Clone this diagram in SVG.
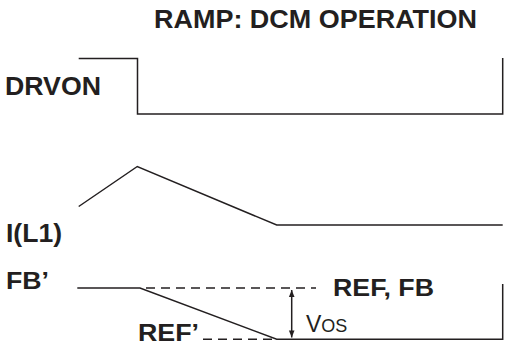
<svg xmlns="http://www.w3.org/2000/svg" width="518" height="345" viewBox="0 0 518 345">
<style>
.lbl{font-family:"Liberation Sans",Arial,sans-serif;font-weight:bold;fill:#231f20}
.reg{font-family:"Liberation Sans",Arial,sans-serif;font-weight:normal;fill:#231f20}
.w{fill:none;stroke:#231f20;stroke-width:1.5}
.d{fill:none;stroke:#231f20;stroke-width:1.4;stroke-dasharray:9 6}
</style>
<defs>
<marker id="ah" viewBox="0 0 10 10" refX="10" refY="5" markerWidth="8" markerHeight="7" orient="auto-start-reverse" markerUnits="userSpaceOnUse">
<path d="M0,1 L10,5 L0,9 Z" fill="#231f20"/>
</marker>
</defs>
<rect width="518" height="345" fill="#ffffff"/>
<g id="title"><text class="lbl" x="154" y="28" font-size="25" textLength="323" lengthAdjust="spacingAndGlyphs">RAMP: DCM OPERATION</text></g>
<g id="drvon-label"><text class="lbl" x="5" y="95" font-size="26" textLength="96" lengthAdjust="spacingAndGlyphs">DRVON</text></g>
<g id="il1-label"><text class="lbl" x="6" y="242" font-size="26" textLength="56" lengthAdjust="spacingAndGlyphs">I(L1)</text></g>
<g id="fb-label"><text class="lbl" x="6" y="289" font-size="24" textLength="43" lengthAdjust="spacingAndGlyphs">FB’</text></g>
<g id="ref-label"><text class="lbl" x="138" y="341" font-size="24" textLength="61" lengthAdjust="spacingAndGlyphs">REF’</text></g>
<g id="reffb-label"><text class="lbl" x="333" y="296" font-size="24" textLength="101" lengthAdjust="spacingAndGlyphs">REF, FB</text></g>
<g id="vos-label"><text class="reg" x="306" y="332" font-size="23">V<tspan font-size="18">OS</tspan></text></g>
<g id="connectors">
<polyline id="drvon" class="w" points="78.7,58.5 137.5,58.5 137.5,114 502.7,114 502.7,58"/>
<polyline id="il1" class="w" points="78.7,206.5 137.3,166.5 276.7,225 502.7,225"/>
<polyline id="fb" class="w" points="77.3,288 140,288 276.7,339.3 502.7,339.3 502.7,284"/>
<line class="d" x1="146" y1="288" x2="316" y2="288"/>
<line class="d" x1="203" y1="339.3" x2="276" y2="339.3"/>
<line class="w" x1="291.7" y1="290" x2="291.7" y2="337.5" stroke-width="1.3" marker-start="url(#ah)" marker-end="url(#ah)"/>
</g>
</svg>
